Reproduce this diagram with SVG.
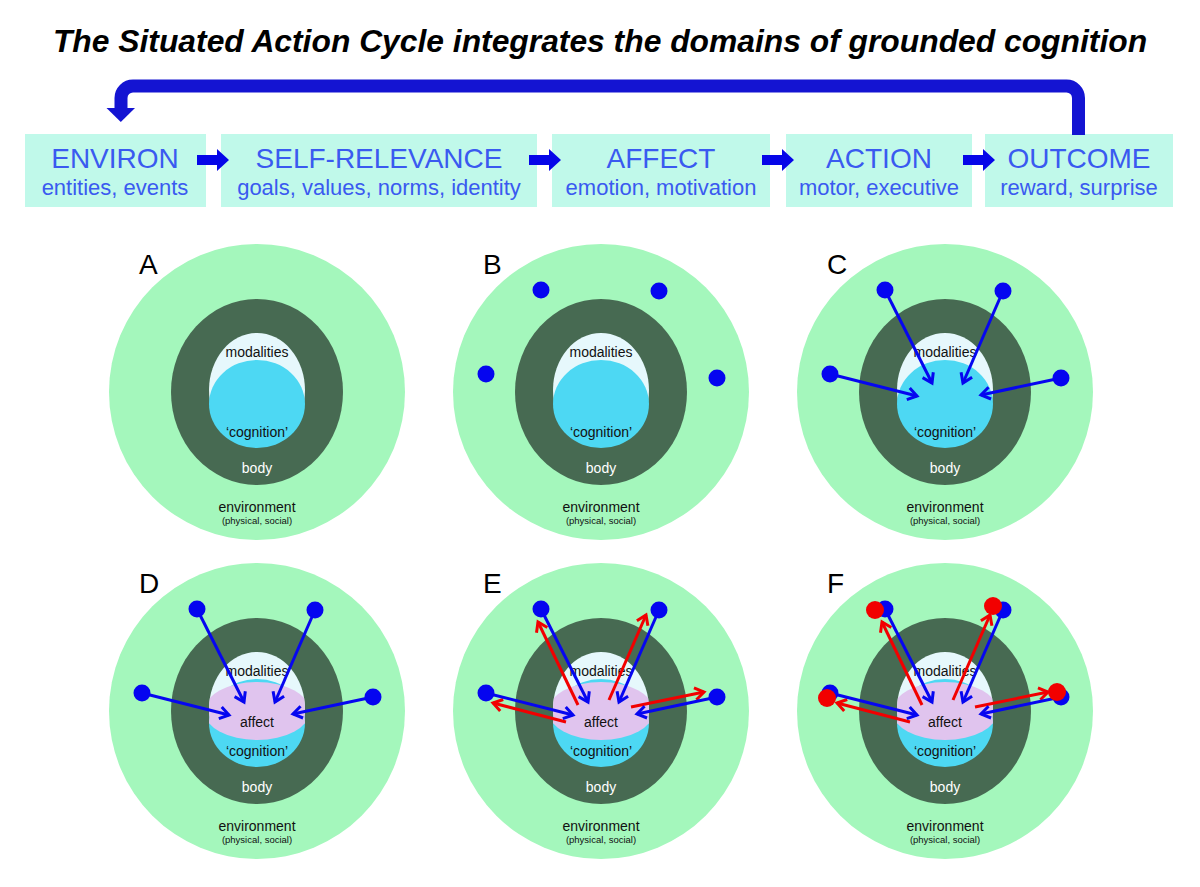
<svg xmlns="http://www.w3.org/2000/svg" width="1200" height="887" viewBox="0 0 1200 887">
<style>
.title{font-family:"Liberation Sans",Arial,sans-serif;font-weight:bold;font-style:italic;font-size:31.8px;fill:#000;text-anchor:middle}
.box{fill:#c0f9ea}
.bt{font-family:"Liberation Sans",Arial,sans-serif;font-size:28px;fill:#3a5af0;text-anchor:middle}
.bs{font-family:"Liberation Sans",Arial,sans-serif;font-size:22px;fill:#3a5af0;text-anchor:middle}
.env{fill:#a4f7bc}
.bodyc{fill:#476a52}
.mod{fill:#e6f8fc}
.cog{fill:#4dd8f3}
.aff{fill:#e0c4ee}
.t{font-family:"Liberation Sans",Arial,sans-serif;font-size:14px;fill:#111;text-anchor:middle}
.tw{font-family:"Liberation Sans",Arial,sans-serif;font-size:14px;fill:#fff;text-anchor:middle}
.ts{font-family:"Liberation Sans",Arial,sans-serif;font-size:9.5px;fill:#111;text-anchor:middle}
.lab{font-family:"Liberation Sans",Arial,sans-serif;font-size:28px;fill:#000}
.blk{fill:#0606e8}
.ba{stroke:#0606f0;stroke-width:3;fill:none}
.ra{stroke:#f20000;stroke-width:3;fill:none}
.bd{fill:#0505f0}
.rd{fill:#f20000}
</style>
<defs>
<marker id="mb" viewBox="-12 -8 16 16" markerWidth="16" markerHeight="16" refX="0" refY="0" orient="auto" markerUnits="userSpaceOnUse">
<path d="M-9,-6 L0,0 L-9,6" fill="none" stroke="#0606f0" stroke-width="3"/>
</marker>
<marker id="mr" viewBox="-12 -8 16 16" markerWidth="16" markerHeight="16" refX="0" refY="0" orient="auto" markerUnits="userSpaceOnUse">
<path d="M-9,-6 L0,0 L-9,6" fill="none" stroke="#f20000" stroke-width="3"/>
</marker>
<clipPath id="inner">
<ellipse cx="0" cy="-2" rx="48" ry="57"/>
<ellipse cx="0" cy="12" rx="48" ry="44"/>
</clipPath>
<g id="base">
<circle r="148" class="env"/>
<ellipse rx="86" ry="93" class="bodyc"/>
<ellipse cy="-2" rx="48" ry="57" class="mod"/>
<ellipse cy="12" rx="48" ry="44" class="cog"/>
</g>
<g id="affbase">
<use href="#base"/>
<ellipse rx="53" ry="29" class="aff" clip-path="url(#inner)"/>
</g>
<g id="txt">
<text class="t" y="-35">modalities</text>
<text class="t" y="45">‘cognition’</text>
<text class="tw" y="81">body</text>
<text class="t" y="120">environment</text>
<text class="ts" y="132">(physical, social)</text>
</g>
<g id="bdots">
<circle cx="-60" cy="-102" r="8.5" class="bd"/>
<circle cx="58" cy="-101" r="8.5" class="bd"/>
<circle cx="-115" cy="-18" r="8.5" class="bd"/>
<circle cx="116" cy="-14" r="8.5" class="bd"/>
</g>
<g id="barrows">
<line x1="-60" y1="-102" x2="-13" y2="-9" class="ba" marker-end="url(#mb)"/>
<line x1="58" y1="-101" x2="18" y2="-9" class="ba" marker-end="url(#mb)"/>
<line x1="-115" y1="-18" x2="-28" y2="4" class="ba" marker-end="url(#mb)"/>
<line x1="116" y1="-14" x2="36" y2="3" class="ba" marker-end="url(#mb)"/>
</g>
<g id="rarrows">
<line x1="-23" y1="-6" x2="-63" y2="-89" class="ra" marker-end="url(#mr)"/>
<line x1="8" y1="-11" x2="45" y2="-96" class="ra" marker-end="url(#mr)"/>
<line x1="-35" y1="11" x2="-108" y2="-8" class="ra" marker-end="url(#mr)"/>
<line x1="30" y1="-4" x2="103" y2="-19" class="ra" marker-end="url(#mr)"/>
</g>
</defs>

<text class="title" x="600" y="52">The Situated Action Cycle integrates the domains of grounded cognition</text>

<g id="environ">
<rect x="25" y="134" width="181" height="73" class="box"/>
<text class="bt" x="115" y="168">ENVIRON</text>
<text class="bs" x="115" y="195">entities, events</text>
</g>
<g id="self-relevance">
<rect x="221" y="134" width="316" height="73" class="box"/>
<text class="bt" x="379" y="168">SELF-RELEVANCE</text>
<text class="bs" x="379" y="195">goals, values, norms, identity</text>
</g>
<g id="affect">
<rect x="552" y="134" width="218" height="73" class="box"/>
<text class="bt" x="661" y="168">AFFECT</text>
<text class="bs" x="661" y="195">emotion, motivation</text>
</g>
<g id="action">
<rect x="786" y="134" width="186" height="73" class="box"/>
<text class="bt" x="879" y="168">ACTION</text>
<text class="bs" x="879" y="195">motor, executive</text>
</g>
<g id="outcome">
<rect x="985" y="134" width="188" height="73" class="box"/>
<text class="bt" x="1079" y="168">OUTCOME</text>
<text class="bs" x="1079" y="195">reward, surprise</text>
</g>

<g id="panel-A" transform="translate(257,392)">
<use href="#base"/><use href="#txt"/>
<text class="lab" x="-118" y="-118">A</text>
</g>
<g id="panel-B" transform="translate(601,392)">
<use href="#base"/><use href="#txt"/>
<text class="lab" x="-118" y="-118">B</text>
</g>
<g id="panel-C" transform="translate(945,392)">
<use href="#base"/><use href="#txt"/>
<text class="lab" x="-118" y="-118">C</text>
</g>
<g id="panel-D" transform="translate(257,711)">
<use href="#affbase"/><use href="#txt"/>
<text class="t" y="16">affect</text>
<text class="lab" x="-118" y="-118">D</text>
</g>
<g id="panel-E" transform="translate(601,711)">
<use href="#affbase"/><use href="#txt"/>
<text class="t" y="16">affect</text>
<text class="lab" x="-118" y="-118">E</text>
</g>
<g id="panel-F" transform="translate(945,711)">
<use href="#affbase"/><use href="#txt"/>
<text class="t" y="16">affect</text>
<text class="lab" x="-118" y="-118">F</text>
</g>

<g id="connectors">
<path d="M1078.5,135 V98 A12,12 0 0 0 1066.5,86 H133 A12,12 0 0 0 121,98 V109" fill="none" stroke="#1414d2" stroke-width="13"/>
<polygon points="106.5,108 135,108 120.8,122" fill="#1414d2"/>
<polygon class="blk" points="197,155 217,155 217,149 229,160 217,171 217,165 197,165"/>
<polygon class="blk" points="529,155 549,155 549,149 561,160 549,171 549,165 529,165"/>
<polygon class="blk" points="762,155 782,155 782,149 794,160 782,171 782,165 762,165"/>
<polygon class="blk" points="963,155 983,155 983,149 995,160 983,171 983,165 963,165"/>
<use href="#barrows" transform="translate(945,392)"/>
<use href="#barrows" transform="translate(257,711)"/>
<use href="#rarrows" transform="translate(601,711)"/>
<use href="#barrows" transform="translate(601,711)"/>
<use href="#rarrows" transform="translate(945,711)"/>
<use href="#barrows" transform="translate(945,711)"/>
</g>

<g id="dots">
<use href="#bdots" transform="translate(601,392)"/>
<use href="#bdots" transform="translate(945,392)"/>
<use href="#bdots" transform="translate(257,711)"/>
<use href="#bdots" transform="translate(601,711)"/>
<use href="#bdots" transform="translate(945,711)"/>
<g transform="translate(945,711)">
<circle cx="-70" cy="-101" r="9" class="rd"/>
<circle cx="48" cy="-105" r="9" class="rd"/>
<circle cx="-118" cy="-13" r="9" class="rd"/>
<circle cx="112" cy="-19" r="9" class="rd"/>
</g>
</g>
</svg>
